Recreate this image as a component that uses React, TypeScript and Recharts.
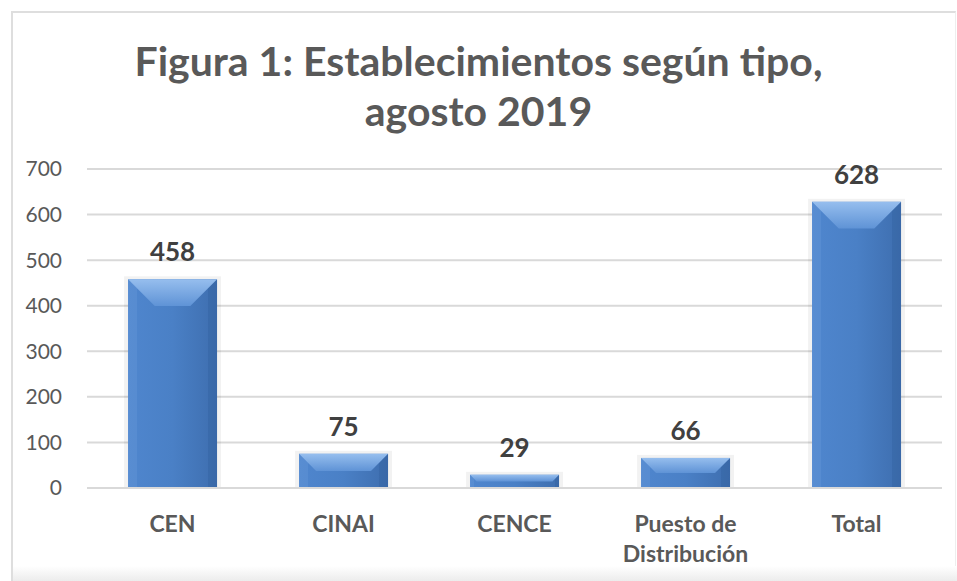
import { BarChart, Bar, XAxis, YAxis, CartesianGrid, LabelList } from "recharts";

const categories = ["CEN", "CINAI", "CENCE", "Puesto de Distribución", "Total"];
const values = [458, 75, 29, 66, 628];
const yTicks = [0, 100, 200, 300, 400, 500, 600, 700];
const titleLines = ["Figura 1: Establecimientos según tipo,", "agosto 2019"];

const data = categories.map((name, i) => ({ name, value: values[i] }));

const TEXT = "#595959";
const FONT = "Lato, 'Open Sans', sans-serif";

// split long category names onto two lines like Excel does
function wrap(label: string, max = 12): string[] {
  const words = label.split(" ");
  const lines: string[] = [];
  let cur = "";
  for (const w of words) {
    const next = cur ? `${cur} ${w}` : w;
    if (next.length > max && cur) {
      lines.push(cur);
      cur = w;
    } else cur = next;
  }
  if (cur) lines.push(cur);
  return lines;
}

// eslint-disable-next-line @typescript-eslint/no-explicit-any
function CategoryTick(props: any) {
  const { x, y, payload } = props;
  const lines = wrap(String(payload.value));
  return (
    <text
      x={x}
      y={y}
      textAnchor="middle"
      fill={TEXT}
      fontFamily={FONT}
      fontSize={23}
      fontWeight={700}
    >
      {lines.map((l, i) => (
        <tspan key={i} x={x} dy={i === 0 ? 36 : 30}>
          {l}
        </tspan>
      ))}
    </text>
  );
}

// bevelled bar, roughly the Office "angle" bevel
// eslint-disable-next-line @typescript-eslint/no-explicit-any
function BevelBar(props: any) {
  const { x, y, width: w, height: h } = props;
  if (!h || h <= 0) return null;
  const b = Math.min(w * 0.3, h * 0.5);
  const s = Math.min(9, h * 0.3);
  return (
    <g>
      <rect x={x - 4} y={y - 3} width={w + 8} height={h + 4} fill="#000" opacity={0.05} />
      <rect x={x} y={y} width={w} height={h} fill="url(#barBody)" />
      {/* left side strip */}
      <polygon
        points={`${x},${y} ${x + s},${y + s} ${x + s},${y + h} ${x},${y + h}`}
        fill="#6A9BDA"
        opacity={0.35}
      />
      {/* right side strip */}
      <polygon
        points={`${x + w},${y} ${x + w - s},${y + s} ${x + w - s},${y + h} ${x + w},${y + h}`}
        fill="#2F5C98"
        opacity={0.3}
      />
      {/* top bevel */}
      <polygon
        points={`${x},${y} ${x + w},${y} ${x + w - b},${y + b} ${x + b},${y + b}`}
        fill="url(#barTop)"
      />
      <line x1={x} y1={y + h} x2={x + w} y2={y + h} stroke="#2E5A94" strokeWidth={1} opacity={0.4} />
    </g>
  );
}

export default function App() {
  return (
    <div
      style={{
        position: "absolute",
        left: 0,
        top: 0,
        width: 957,
        height: 581,
        background: "#fff",
        overflow: "hidden",
      }}
    >
      {/* chart frame */}
      <div
        style={{
          position: "absolute",
          left: 11,
          top: 11,
          width: 945,
          height: 580,
          borderLeft: "2px solid #dedede",
          borderTop: "2px solid #dedede",
          borderRight: "1px solid #eeeeee",
          boxSizing: "border-box",
        }}
      />
      <div
        style={{
          position: "absolute",
          left: 13,
          top: 566,
          width: 944,
          height: 15,
          background: "linear-gradient(#ffffff, #ececec)",
        }}
      />

      {/* title */}
      {titleLines.map((t, i) => (
        <div
          key={t}
          style={{
            position: "absolute",
            left: 0,
            width: 957,
            top: 37 + i * 50,
            textAlign: "center",
            fontFamily: FONT,
            fontWeight: 700,
            fontSize: 41,
            lineHeight: "48px",
            color: TEXT,
            whiteSpace: "nowrap",
          }}
        >
          {t}
        </div>
      ))}

      <div style={{ position: "absolute", left: 0, top: 0 }}>
        <BarChart
          width={957}
          height={581}
          data={data}
          margin={{ top: 169, right: 15, bottom: 63, left: 27 }}
          barCategoryGap="24%"
        >
          <defs>
            <linearGradient id="barBody" x1="0" y1="0" x2="1" y2="0">
              <stop offset="0%" stopColor="#4F86CE" />
              <stop offset="50%" stopColor="#4A80C6" />
              <stop offset="100%" stopColor="#3E6EAF" />
            </linearGradient>
            <linearGradient id="barTop" x1="0" y1="0" x2="0" y2="1">
              <stop offset="0%" stopColor="#96BEEE" />
              <stop offset="100%" stopColor="#5F93D6" />
            </linearGradient>
          </defs>
          <CartesianGrid stroke="#d9d9d9" strokeWidth={2} vertical={false} />
          <XAxis
            dataKey="name"
            axisLine={{ stroke: "#d9d9d9", strokeWidth: 2 }}
            tickLine={false}
            interval={0}
            tick={<CategoryTick />}
          />
          <YAxis
            domain={[0, 700]}
            ticks={yTicks}
            width={60}
            axisLine={false}
            tickLine={false}
            tickMargin={19}
            tick={{ fill: TEXT, fontSize: 21, fontFamily: FONT }}
          />
          <Bar dataKey="value" shape={<BevelBar />} isAnimationActive={false}>
            <LabelList
              dataKey="value"
              position="top"
              offset={18}
              fill="#404040"
              fontSize={26}
              fontWeight={700}
              fontFamily={FONT}
            />
          </Bar>
        </BarChart>
      </div>
    </div>
  );
}
